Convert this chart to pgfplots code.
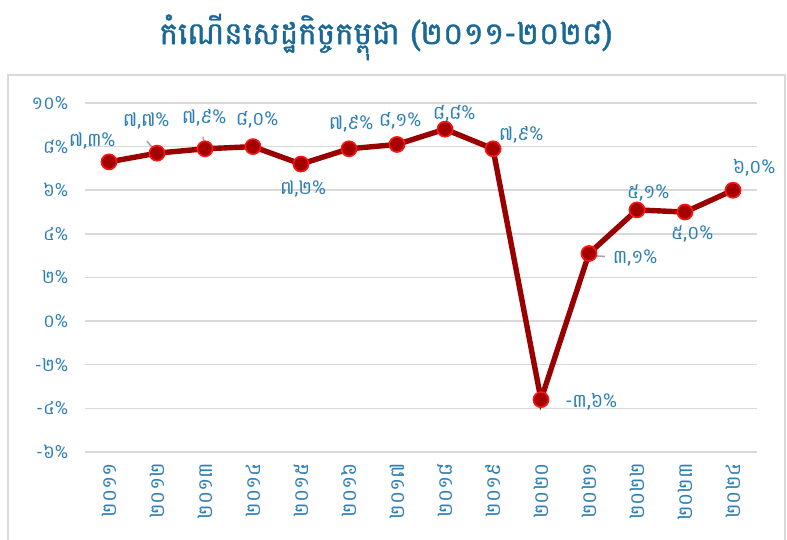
\documentclass[border=0pt]{standalone}
\usepackage{fontspec}
\setmainfont{Battambang}[Script=Khmer]
\newfontfamily\titlefont{Battambang}[Script=Khmer, FakeBold=1.2]
\usepackage{pgfplots}
\pgfplotsset{compat=1.18}

\definecolor{titleblue}{RGB}{26,104,150}
\definecolor{lblblue}{RGB}{46,128,180}
\definecolor{linered}{RGB}{153,0,0}
\definecolor{mkfill}{RGB}{165,0,0}
\definecolor{mkdraw}{RGB}{255,20,20}
\definecolor{gridgray}{RGB}{217,217,217}
\definecolor{framegray}{RGB}{217,217,217}
\definecolor{leadgray}{RGB}{166,166,166}

% 1px of the reference = 0.5pt
\begin{document}
\begin{tikzpicture}
\useasboundingbox (0,0) rectangle (393.5pt,270pt);

% chart area frame
\draw[framegray, line width=0.9pt] (4pt,0pt) -- (4pt,232.5pt) -- (392.3pt,232.5pt) -- (392.3pt,0pt);

\node[font=\titlefont\fontsize{15.5}{18}\selectfont, text=titleblue] at (193pt,251.5pt)
  {កំណើនសេដ្ឋកិច្ចកម្ពុជា (២០១១-២០២៨)};

\begin{axis}[
    at={(42.5pt,44pt)}, anchor=south west,
    scale only axis,
    width=336pt, height=174.5pt,
    xmin=-0.5, xmax=13.5,
    ymin=-6, ymax=10,
    axis line style={draw=none},
    tick style={draw=none},
    ytick={-6,-4,-2,0,2,4,6,8,10},
    yticklabels={-៦\%,-៤\%,-២\%,០\%,២\%,៤\%,៦\%,៨\%,១០\%},
    xtick={0,...,13},
    xticklabels={២០១១,២០១២,២០១៣,២០១៤,២០១៥,២០១៦,២០១៧,២០១៨,២០១៩,២០២០,២០២១,២០២២,២០២៣,២០២៤},
    xticklabel style={rotate=90, anchor=east, xshift=-2pt, font=\fontsize{10}{12}\selectfont},
    yticklabel style={xshift=-5pt, font=\fontsize{9}{11}\selectfont},
    tick label style={text=lblblue},
    ymajorgrids=true,
    major grid style={gridgray, line width=0.75pt},
    clip=false,
]

\addplot[linered, line width=2.7pt, mark=*,
  mark options={fill=mkfill, draw=mkdraw, line width=0.8pt}, mark size=3.8pt]
  coordinates {
    (0,7.3) (1,7.7) (2,7.9) (3,8.0) (4,7.2) (5,7.9) (6,8.1)
    (7,8.8) (8,7.9) (9,-3.6) (10,3.1) (11,5.1) (12,5.0) (13,6.0)
  };

% leader lines
\draw[leadgray, line width=0.8pt] ([xshift=-5pt,yshift=6pt]axis cs:1,7.7) -- ([xshift=-0.5pt,yshift=0.5pt]axis cs:1,7.7);
\draw[leadgray, line width=0.8pt] ([xshift=-1pt,yshift=6pt]axis cs:2,7.9) -- ([xshift=0pt,yshift=0.5pt]axis cs:2,7.9);
\draw[leadgray, line width=0.8pt] ([xshift=0.5pt,yshift=-1pt]axis cs:10,3.1) -- ([xshift=8pt,yshift=-1.5pt]axis cs:10,3.1);

% data labels
\begin{scope}[every node/.style={font=\fontsize{9.5}{11}\selectfont, text=lblblue, inner sep=0pt}]
\node at ([xshift=-8.5pt,yshift=10.5pt]axis cs:0,7.3) {៧,៣\%};
\node at ([xshift=-5.5pt,yshift=16pt]axis cs:1,7.7) {៧,៧\%};
\node at ([xshift=-0.5pt,yshift=15.5pt]axis cs:2,7.9) {៧,៩\%};
\node at ([xshift=2pt,yshift=13.5pt]axis cs:3,8.0) {៨,០\%};
\node at ([xshift=1pt,yshift=-12.5pt]axis cs:4,7.2) {៧,២\%};
\node at ([xshift=1pt,yshift=12.5pt]axis cs:5,7.9) {៧,៩\%};
\node at ([xshift=1.5pt,yshift=12pt]axis cs:6,8.1) {៨,១\%};
\node at ([xshift=4.5pt,yshift=7.5pt]axis cs:7,8.8) {៨,៨\%};
\node at ([xshift=14pt,yshift=7pt]axis cs:8,7.9) {៧,៩\%};
\node at ([xshift=25pt,yshift=-1pt]axis cs:9,-3.6) {-៣,៦\%};
\node at ([xshift=23pt,yshift=-2.5pt]axis cs:10,3.1) {៣,១\%};
\node at ([xshift=5.5pt,yshift=8.5pt]axis cs:11,5.1) {៥,១\%};
\node at ([xshift=3.5pt,yshift=-11pt]axis cs:12,5.0) {៥,០\%};
\node at ([xshift=10.5pt,yshift=11pt]axis cs:13,6.0) {៦,០\%};
\end{scope}

\end{axis}
\end{tikzpicture}
\end{document}
